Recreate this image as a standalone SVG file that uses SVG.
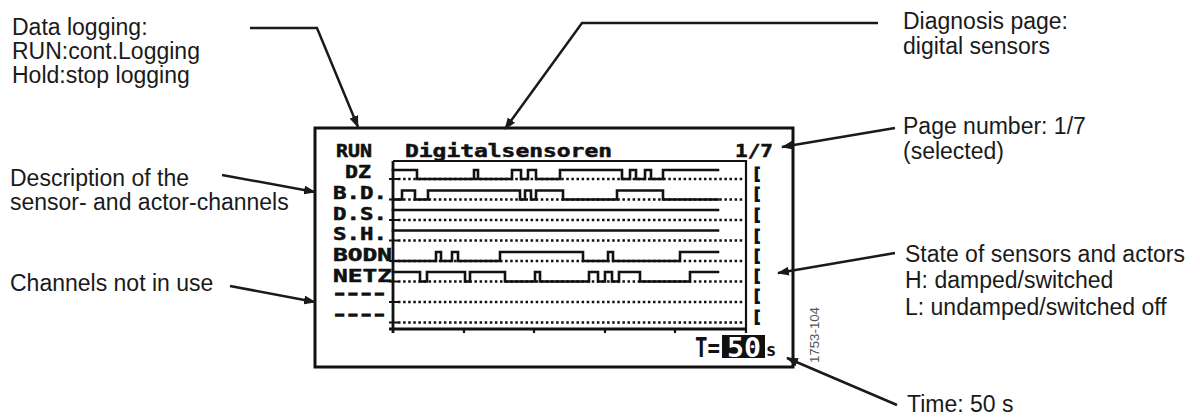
<svg xmlns="http://www.w3.org/2000/svg" width="1200" height="419" viewBox="0 0 1200 419">
<style>
.lbl{font-family:"Liberation Sans",Arial,sans-serif;font-size:23px;fill:#1a1a1a}
.lcd{font-family:"DejaVu Sans Mono","Liberation Mono",monospace;font-weight:bold;font-size:17px;fill:#111;stroke:#111;stroke-width:0.5}
.dash{font-family:"DejaVu Sans Mono","Liberation Mono",monospace;font-weight:bold;font-size:12px;fill:#111;stroke:#111;stroke-width:1.4}
.big{font-family:"DejaVu Sans Mono","Liberation Mono",monospace;font-weight:bold;font-size:26px}
.st{font-family:"DejaVu Sans Mono","Liberation Mono",monospace;font-weight:bold;font-size:16px;fill:#111;stroke:#111;stroke-width:1.2}
.conn{fill:none;stroke:#1a1a1a;stroke-width:2.5;marker-end:url(#ah)}
.trace{fill:none;stroke:#111;stroke-width:2.6;stroke-linejoin:miter;stroke-linecap:square}
.dots{fill:none;stroke:#111;stroke-width:2.5;stroke-dasharray:2.5 2.6}
.ax{fill:none;stroke:#111;stroke-width:2.8}
.tk{fill:none;stroke:#111;stroke-width:2.2}
.code{font-family:"Liberation Sans Narrow","Liberation Sans",Arial,sans-serif;font-size:13px;fill:#555}
</style>
<defs>
<marker id="ah" viewBox="0 0 12 9" refX="11" refY="4.5" markerWidth="12" markerHeight="9" orient="auto" markerUnits="userSpaceOnUse">
<path d="M0,0 L12,4.5 L0,9 z" fill="#1a1a1a"/>
</marker>
</defs>
<rect width="1200" height="419" fill="#fff"/>

<g id="display">
<rect x="315" y="128" width="478" height="239" fill="#fff" stroke="#111" stroke-width="3"/>
<text class="lcd" x="336" y="157" textLength="36" lengthAdjust="spacingAndGlyphs">RUN</text>
<text class="lcd" x="405" y="157" textLength="207" lengthAdjust="spacingAndGlyphs">Digitalsensoren</text>
<text class="lcd" x="735" y="157" textLength="38" lengthAdjust="spacingAndGlyphs">1/7</text>
<g id="row-labels">
<text class="lcd" x="345" y="178" textLength="26" lengthAdjust="spacingAndGlyphs">DZ</text>
<text class="lcd" x="333" y="198.5" textLength="54" lengthAdjust="spacingAndGlyphs">B.D.</text>
<text class="lcd" x="333" y="219.5" textLength="54" lengthAdjust="spacingAndGlyphs">D.S.</text>
<text class="lcd" x="333" y="240" textLength="54" lengthAdjust="spacingAndGlyphs">S.H.</text>
<text class="lcd" x="333" y="261" textLength="59" lengthAdjust="spacingAndGlyphs">BODN</text>
<text class="lcd" x="333" y="281.5" textLength="59" lengthAdjust="spacingAndGlyphs">NETZ</text>
<text class="dash" x="333" y="297.5" textLength="53" lengthAdjust="spacingAndGlyphs">----</text>
<text class="dash" x="333" y="319" textLength="53" lengthAdjust="spacingAndGlyphs">----</text>
</g>
<g id="plot">
<path class="ax" d="M393,161 V333 M389,329 H746"/>
<path class="tk" d="M393,161 H746 V333"/>
<path class="tk" d="M389,179 H398 M389,199.5 H398 M389,220 H398 M389,240.5 H398 M389,261 H398 M389,281.5 H398 M389,302 H398 M389,322.5 H398 M464,329 V333 M534,329 V333 M605,329 V333 M675,329 V333"/>
<path class="dots" d="M398,179 H744 M398,199.5 H744 M398,220 H744 M398,240.5 H744 M398,261 H744 M398,281.5 H744 M398,302 H744 M398,322.5 H744"/>
<path class="trace" d="M393,170 H417 V179 H474 V170 H478 V179 H512 V170 H521 V179 H528 V170 H536 V179 H560 V170 H622 V179 H630 V170 H636 V179 H645 V170 H651 V179 H663 V170 H718"/>
<path class="trace" d="M393,199.5 H402 V190.5 H415 V199.5 H428 V190.5 H520 V199.5 H525 V190.5 H531 V199.5 H536 V190.5 H563 V199.5 H617 V190.5 H663 V199.5 H718"/>
<path class="trace" d="M393,210 H718"/>
<path class="trace" d="M393,230.5 H718"/>
<path class="trace" d="M393,261 H436 V252 H441 V261 H452 V252 H458 V261 H500 V252 H583 V261 H608 V252 H613 V261 H680 V252 H718"/>
<path class="trace" d="M393,272 H420 V281.5 H427 V272 H465 V281.5 H470 V272 H505 V281.5 H535 V272 H540 V281.5 H589 V272 H598 V281.5 H605 V272 H612 V281.5 H619 V272 H640 V281.5 H690 V272 H718"/>
</g>
<g id="states">
<text class="st" x="752" y="178.5">[</text>
<text class="st" x="752" y="199">[</text>
<text class="st" x="752" y="220">[</text>
<text class="st" x="752" y="241">[</text>
<text class="st" x="752" y="261">[</text>
<text class="st" x="752" y="281">[</text>
<text class="st" x="752" y="301">[</text>
<text class="st" x="752" y="322">[</text>
</g>
<g id="time">
<text class="big" x="695" y="357" textLength="25" lengthAdjust="spacingAndGlyphs" fill="#111">T=</text>
<rect x="722" y="335" width="43" height="23" fill="#111"/>
<text class="big" x="727" y="357" textLength="34" lengthAdjust="spacingAndGlyphs" fill="#fff">50</text>
<text class="lcd" x="766" y="356" font-size="15" fill="#333" style="stroke-width:0">s</text>
</g>
</g>

<g id="code">
<text class="code" transform="translate(819,363) rotate(-90)" textLength="56" lengthAdjust="spacingAndGlyphs">1753-104</text>
</g>

<g id="note-datalogging">
<text class="lbl" x="12" y="35">Data logging:</text>
<text class="lbl" x="12" y="59">RUN:cont.Logging</text>
<text class="lbl" x="12" y="83">Hold:stop logging</text>
</g>
<g id="note-diagnosis">
<text class="lbl" x="903" y="29">Diagnosis page:</text>
<text class="lbl" x="903" y="54">digital sensors</text>
</g>
<g id="note-page">
<text class="lbl" x="903" y="134">Page number: 1/7</text>
<text class="lbl" x="903" y="159">(selected)</text>
</g>
<g id="note-description">
<text class="lbl" x="10" y="186">Description of the</text>
<text class="lbl" x="10" y="210">sensor- and actor-channels</text>
</g>
<g id="note-channels">
<text class="lbl" x="10" y="291">Channels not in use</text>
</g>
<g id="note-state">
<text class="lbl" x="905" y="262">State of sensors and actors</text>
<text class="lbl" x="905" y="288">H: damped/switched</text>
<text class="lbl" x="905" y="315">L: undamped/switched off</text>
</g>
<g id="note-time">
<text class="lbl" x="907" y="412">Time: 50 s</text>
</g>

<g id="connectors">
<polyline class="conn" points="250,28 317,28 358,127"/>
<polyline class="conn" points="878,23 582,23 505,129"/>
<line class="conn" x1="895" y1="128" x2="782" y2="147"/>
<line class="conn" x1="222" y1="175" x2="315" y2="192"/>
<line class="conn" x1="230" y1="286" x2="315" y2="302"/>
<line class="conn" x1="895" y1="253" x2="778" y2="273"/>
<line class="conn" x1="897" y1="405" x2="787" y2="358"/>
</g>
</svg>
